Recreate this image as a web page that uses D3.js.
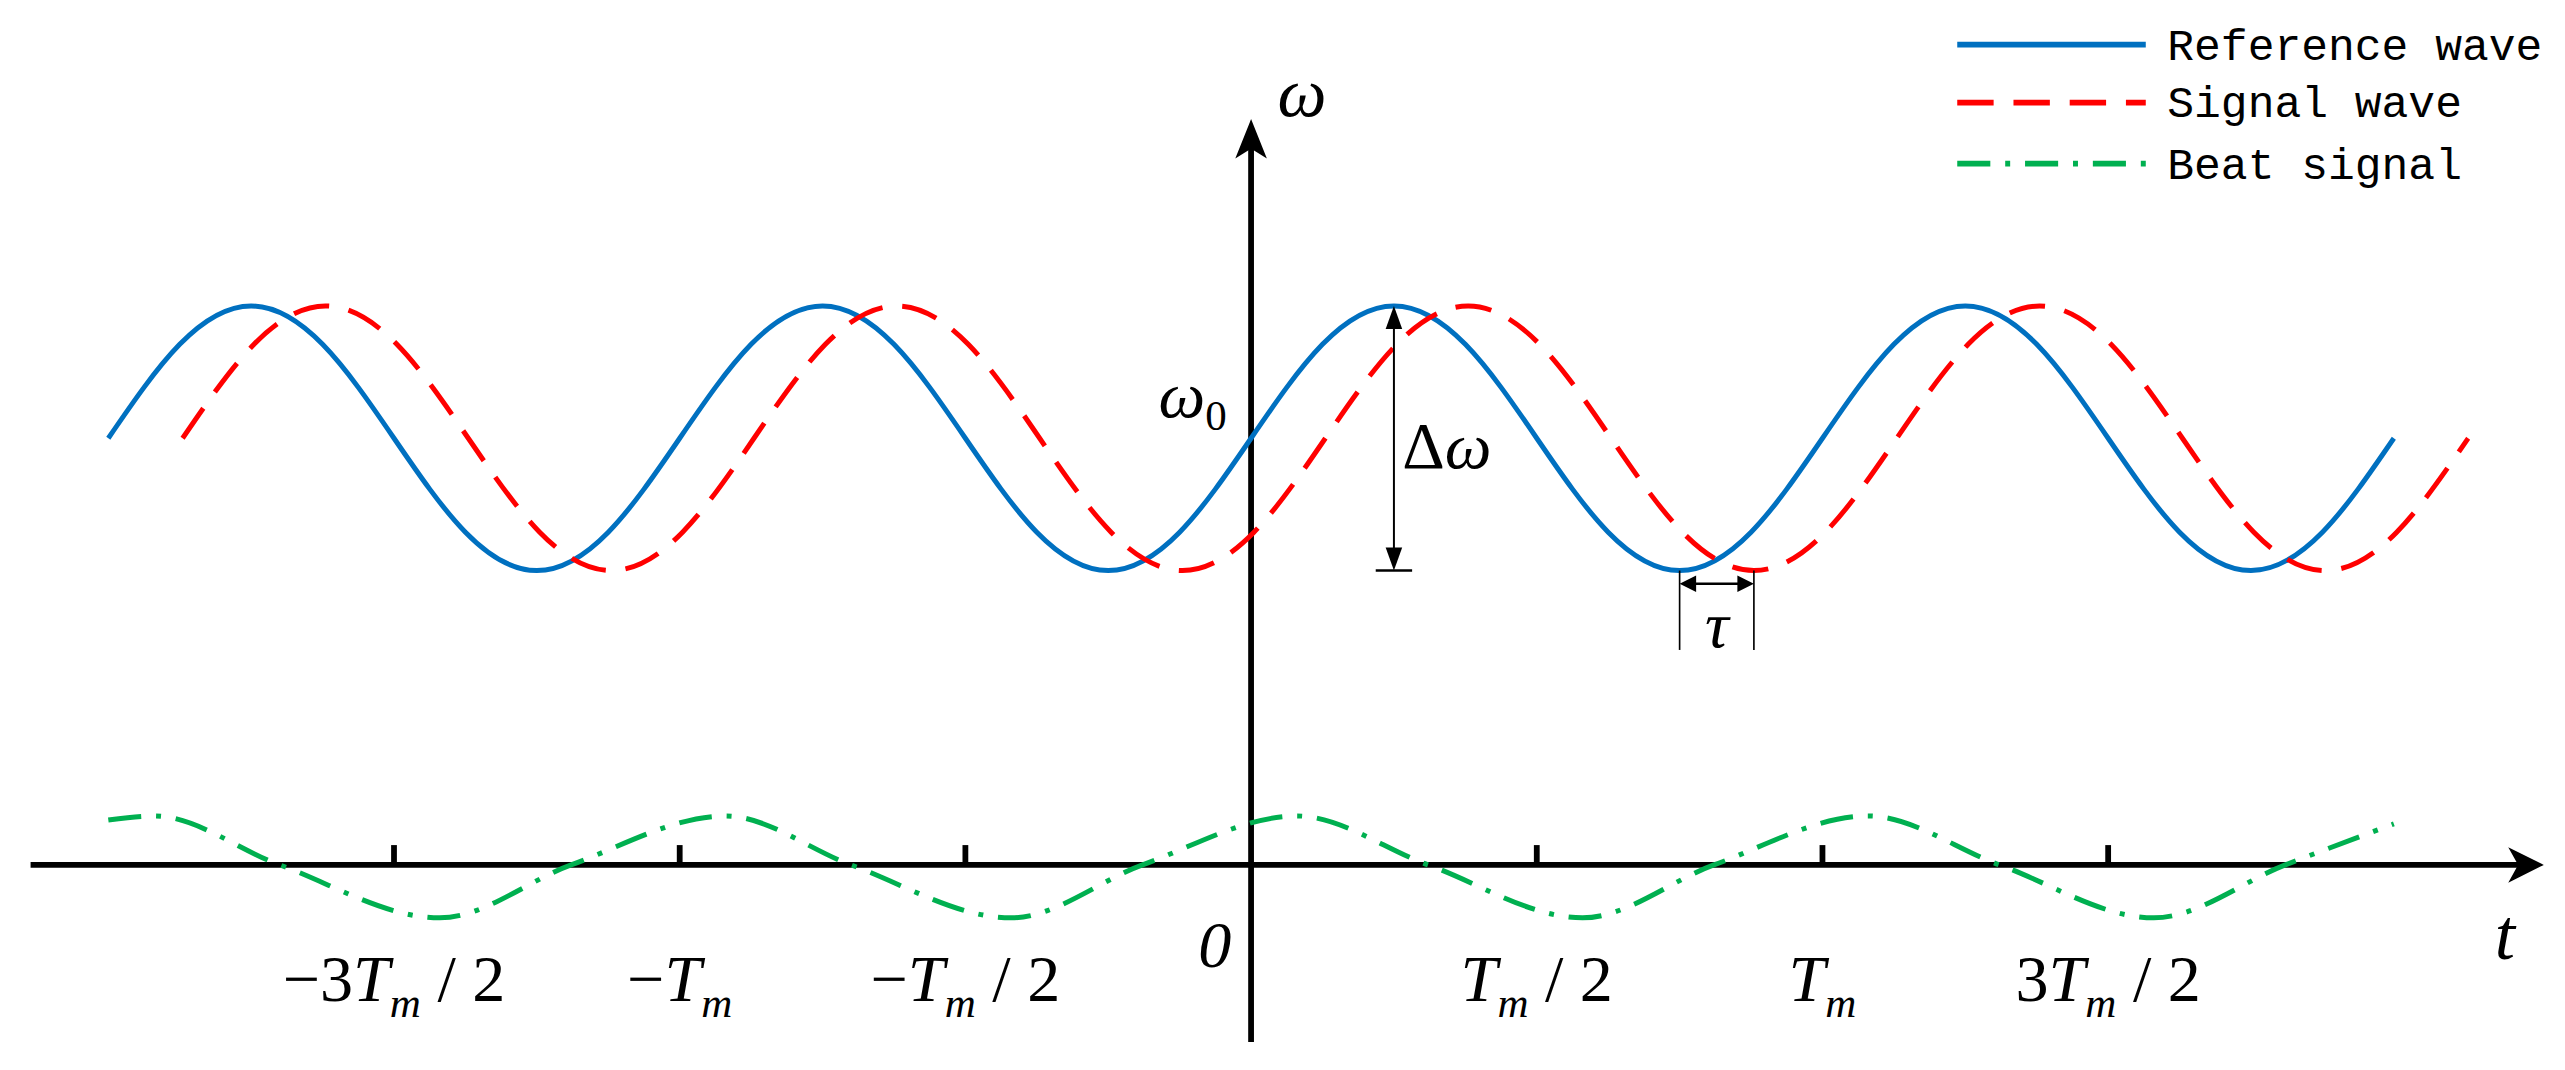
<!DOCTYPE html>
<html><head><meta charset="utf-8">
<script src="https://cdn.jsdelivr.net/npm/d3@7"></script>
<style>body{margin:0;background:#fff}svg{display:block}</style></head>
<body><svg id="c" width="2565" height="1070" viewBox="0 0 1550 647"></svg>
<script>
// time in units of Tm, values in units of Δω
const tau = 0.13;
const omega0 = 3.225;
const waveT = [-2,-1.875,-1.75,-1.625,-1.5,-1.375,-1.25,-1.125,-1,-0.875,-0.75,-0.625,-0.5,-0.375,-0.25,-0.125,0,0.125,0.25,0.375,0.5,0.625,0.75,0.875,1,1.125,1.25,1.375,1.5,1.625,1.75,1.875,2];
const waveV = [0,0.71,1,0.71,0,-0.71,-1,-0.71,0,0.71,1,0.71,0,-0.71,-1,-0.71,0,0.71,1,0.71,0,-0.71,-1,-0.71,0,0.71,1,0.71,0,-0.71,-1,-0.71,0];
const beatT = [-2,-1.92,-1.70,-1.42,-1.19,-0.92,-0.70,-0.42,-0.19,0.08,0.31,0.58,0.81,1.08,1.31,1.58,1.81,2];
const beatV = [0.34,0.37,0,-0.40,0,0.37,0,-0.40,0,0.37,0,-0.40,0,0.37,0,-0.40,0,0.31];
const tickT = [-1.5,-1,-0.5,0.5,1,1.5];
const tickLab = [["−3","/ 2"],["−",""],["−","/ 2"],["","/ 2"],["",""],["3","/ 2"]];
const legendNames = ["Reference wave","Signal wave","Beat signal"];
const colors = ["#0070C0","#FF0000","#00B050"];
const dashes = [null,"22,12","20,9,3,9"];

const svg = d3.select("#c");
const x = d3.scaleLinear().domain([-2,2]).range([65,1447]);
const y = d3.scaleLinear().domain([0,1]).range([523,443]);
const x0 = x(0), y0 = y(0);
const serif = "Liberation Serif, Times New Roman, serif";

// axes
svg.append("line").attr("x1",18).attr("x2",1528).attr("y1",y0).attr("y2",y0).attr("stroke","#000").attr("stroke-width",3.5);
svg.append("path").attr("d",`M1536,${y0} L1518,${y0-9} L1523,${y0} L1518,${y0+9}Z`).attr("fill","#000").attr("stroke","#000").attr("stroke-width",1.5);
svg.append("line").attr("x1",x0).attr("x2",x0).attr("y1",630).attr("y2",82).attr("stroke","#000").attr("stroke-width",3.5);
svg.append("path").attr("d",`M${x0},74 L${x0-8},94 L${x0},89 L${x0+8},94Z`).attr("fill","#000").attr("stroke","#000").attr("stroke-width",1.5);
svg.selectAll(".tk").data(tickT).join("line").attr("x1",d=>x(d)).attr("x2",d=>x(d)).attr("y1",y0).attr("y2",y0-12).attr("stroke","#000").attr("stroke-width",3.5);

// tick labels
tickT.forEach((t,i)=>{
  const tx = svg.append("text").attr("x",x(t)).attr("y",605).attr("text-anchor","middle").attr("font-family",serif).attr("font-size",40);
  tx.append("tspan").text(tickLab[i][0]);
  tx.append("tspan").attr("font-style","italic").text("T");
  tx.append("tspan").attr("font-style","italic").attr("font-size",26).attr("dy",10).text("m");
  if(tickLab[i][1]) tx.append("tspan").attr("dy",-10).text(" "+tickLab[i][1]);
});

// waves
const line = d3.line().x(d=>x(d[0])).y(d=>y(d[1])).curve(d3.curveNatural);
const series = [
  waveT.map((t,i)=>[t,omega0+waveV[i]]),
  waveT.map((t,i)=>[t+tau,omega0+waveV[i]]),
  beatT.map((t,i)=>[t,beatV[i]])
];
series.forEach((s,i)=>{
  const l = i===2 ? d3.line().x(d=>x(d[0])).y(d=>y(d[1])).curve(d3.curveMonotoneX) : line;
  svg.append("path").attr("d",l(s)).attr("fill","none").attr("stroke",colors[i]).attr("stroke-width",3).attr("stroke-dasharray",dashes[i]);
});

// Δω annotation
const xa = x(0.25), yTop = y(omega0+1), yBot = y(omega0-1);
svg.append("line").attr("x1",xa).attr("x2",xa).attr("y1",yTop+12).attr("y2",yBot-12).attr("stroke","#000").attr("stroke-width",1.2);
svg.append("path").attr("d",`M${xa},${yTop} L${xa-5},${yTop+14} L${xa+5},${yTop+14}Z`).attr("fill","#000");
svg.append("path").attr("d",`M${xa},${yBot} L${xa-5},${yBot-14} L${xa+5},${yBot-14}Z`).attr("fill","#000");
svg.append("line").attr("x1",xa-11).attr("x2",xa+11).attr("y1",yBot).attr("y2",yBot).attr("stroke","#000").attr("stroke-width",1.5);
svg.append("text").attr("x",xa+5).attr("y",283).attr("font-family",serif).attr("font-size",40).html('Δ<tspan font-style="italic">ω</tspan>');

// τ annotation
const xt1 = x(0.75), xt2 = x(0.75+tau), yt = yBot+8;
[xt1,xt2].forEach(v=>svg.append("line").attr("x1",v).attr("x2",v).attr("y1",yBot).attr("y2",yBot+48).attr("stroke","#000").attr("stroke-width",1));
svg.append("line").attr("x1",xt1+8).attr("x2",xt2-8).attr("y1",yt).attr("y2",yt).attr("stroke","#000").attr("stroke-width",1.5);
svg.append("path").attr("d",`M${xt1},${yt} L${xt1+10},${yt-5} L${xt1+10},${yt+5}Z`).attr("fill","#000");
svg.append("path").attr("d",`M${xt2},${yt} L${xt2-10},${yt-5} L${xt2-10},${yt+5}Z`).attr("fill","#000");
svg.append("text").attr("x",(xt1+xt2)/2).attr("y",yBot+46).attr("text-anchor","middle").attr("font-family",serif).attr("font-style","italic").attr("font-size",40).text("τ");

// axis labels
svg.append("text").attr("x",772).attr("y",70).attr("font-family",serif).attr("font-style","italic").attr("font-size",42).text("ω");
svg.append("text").attr("x",700).attr("y",252).attr("font-family",serif).attr("font-size",40).html('<tspan font-style="italic">ω</tspan><tspan font-size="26" dy="8">0</tspan>');
svg.append("text").attr("x",724).attr("y",585).attr("font-family",serif).attr("font-style","italic").attr("font-size",40).text("0");
svg.append("text").attr("x",1508).attr("y",580).attr("font-family",serif).attr("font-style","italic").attr("font-size",44).text("t");

// legend
legendNames.forEach((n,i)=>{
  const ly = [27,62,99][i];
  svg.append("line").attr("x1",1183).attr("x2",1297).attr("y1",ly).attr("y2",ly).attr("stroke",colors[i]).attr("stroke-width",3.5).attr("stroke-dasharray",dashes[i]);
  svg.append("text").attr("x",1310).attr("y",ly+9).attr("font-family","Liberation Mono, monospace").attr("font-size",27).text(n);
});
</script></body></html>
